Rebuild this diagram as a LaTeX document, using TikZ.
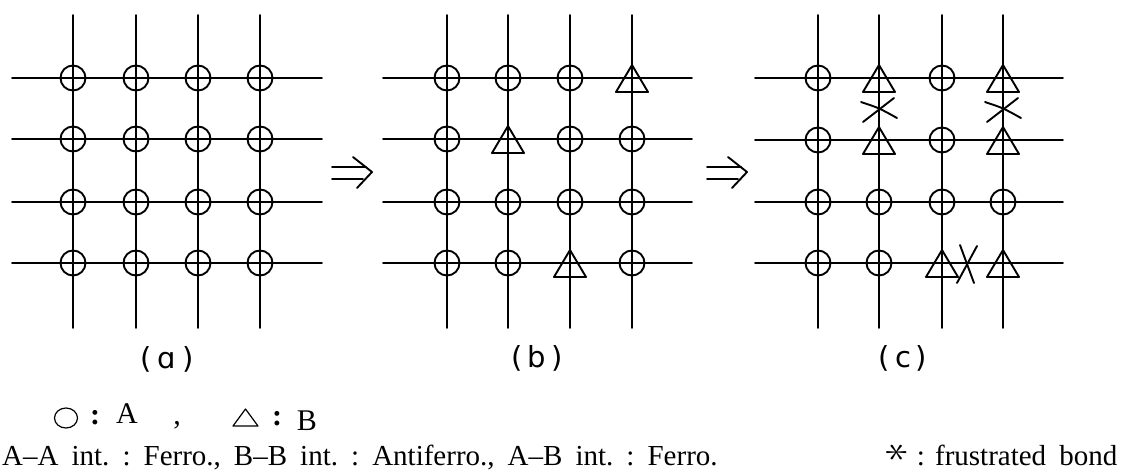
\documentclass[tikz,border=0pt]{standalone}
\usepackage{fontspec}
\setmainfont{Liberation Serif}
\newfontfamily\labfont{DejaVu Sans}
\newcommand\wgap{\hspace{0.45em}}
\tikzset{
  latt/.style={line width=1.9pt, line cap=round},
  siteA/.style={circle, draw, line width=1.9pt, minimum size=25pt, inner sep=0pt},
  trisite/.pic={\draw[line width=1.9pt, line join=round] (0,-13) -- (16,14) -- (-16,14) -- cycle;},
  frust/.style={line width=1.9pt, line cap=round},
  arrowline/.style={line width=1.9pt, line cap=round, line join=round},
  panellabel/.style={font=\labfont\fontsize{29}{32}\selectfont, inner sep=0pt},
  legtext/.style={font=\fontsize{30}{34}\selectfont, inner sep=0pt, anchor=base},
  bottomtext/.style={font=\fontsize{29}{33}\selectfont, inner sep=0pt, anchor=base west},
}
\begin{document}
\begin{tikzpicture}[x=1pt, y=-1pt]
\useasboundingbox (0,0) rectangle (1144,472);

% ---------- panel (a)
\foreach \x in {73,136,198,260} \draw[latt] (\x,15) -- (\x,328);
\foreach \y in {78,139,202,263} \draw[latt] (12,\y) -- (322,\y);
\foreach \x [count=\i] in {73,136,198,260}
  \foreach \y [count=\j] in {78,139,202,263}
    \node[siteA] (a\i\j) at (\x,\y) {};

% ---------- panel (b)
\foreach \x in {447,508,570,632} \draw[latt] (\x,15) -- (\x,328);
\foreach \y in {78,139,202,263} \draw[latt] (383,\y) -- (692,\y);
\foreach \x/\y/\n in {447/78/b11,508/78/b21,570/78/b31,
                      447/139/b12,570/139/b32,632/139/b42,
                      447/202/b13,508/202/b23,570/202/b33,632/202/b43,
                      447/263/b14,508/263/b24,632/263/b44}
  \node[siteA] (\n) at (\x,\y) {};
\foreach \x/\y in {632/78,508/139,570/263}
  \pic at (\x,\y) {trisite};

% ---------- panel (c)
\foreach \x in {818,879,942,1003} \draw[latt] (\x,15) -- (\x,328);
\foreach \y in {78,140,202,263} \draw[latt] (755,\y) -- (1063,\y);
\foreach \x/\y/\n in {818/78/c11,942/78/c31,
                      818/140/c12,942/140/c32,
                      818/202/c13,879/202/c23,942/202/c33,1003/202/c43,
                      818/263/c14,879/263/c24}
  \node[siteA] (\n) at (\x,\y) {};
\foreach \x/\y in {879/78,1003/78,879/140,1003/140,942/263,1003/263}
  \pic at (\x,\y) {trisite};
% frustrated bonds
\coordinate (f1) at (879,110);
\coordinate (f2) at (1003,110);
\coordinate (f3) at (967,264);
\foreach \f in {f1,f2} {
  \draw[frust] ([shift={(-18,-8)}]\f) .. controls ([shift={(0,-2)}]\f) .. ([shift={(18,8)}]\f);
  \draw[frust] ([shift={(-16,12)}]\f) .. controls ([shift={(0,0)}]\f) .. ([shift={(15,-12)}]\f);
}
\draw[frust] ([shift={(-7,-19)}]f3) -- ([shift={(7,19)}]f3);
\draw[frust] ([shift={(10,-18)}]f3) -- ([shift={(-10,19)}]f3);

% ---------- arrows
\foreach \s/\n in {0/ar1,375/ar2} {
  \begin{scope}[xshift=\s pt]
    \coordinate (\n) at (352,173);
    \draw[arrowline] (332,167) -- (366,167);
    \draw[arrowline] (332,179) -- (363,179);
    \draw[arrowline] (353,157) -- (372,172) -- (357,188);
  \end{scope}
}

% ---------- panel labels
\node[panellabel] (la) at (167,359) {(\hspace{6pt}ɑ\hspace{6pt})};
\node[panellabel] (lb) at (537,358) {(\hspace{5pt}b\hspace{5pt})};
\node[panellabel] (lc) at (903,358) {(\hspace{5pt}c\hspace{5pt})};

% ---------- legend
\draw[line width=1.2pt] (66,418) ellipse [x radius=11.5, y radius=10];
\node[legtext] (c1) at (95,424) {\textbf{:}};
\node[legtext] (lA) at (127,423) {A};
\node[legtext] (cm) at (177,424) {,};
\draw[line width=1.2pt, line join=round] (245.5,409) -- (258,426) -- (233,426) -- cycle;
\node[legtext] (c2) at (277,425) {\textbf{:}};
\node[legtext] (lB) at (307,430) {B};

% ---------- bottom line
\node[bottomtext] (bl) at (2,465) {A–A\wgap int.\wgap :\wgap Ferro.,\wgap B–B\wgap int.\wgap :\wgap Antiferro.,\wgap A–B\wgap int.\wgap :\wgap Ferro.};
\node[bottomtext] (fb) at (886,465) {\raisebox{0.1em}{\scalebox{1.9}[1.6]{\rotatebox{90}{$\ast$}}}\hspace{0.3em}:\hspace{0.35em}frustrated\wgap bond};
\end{tikzpicture}
\end{document}
